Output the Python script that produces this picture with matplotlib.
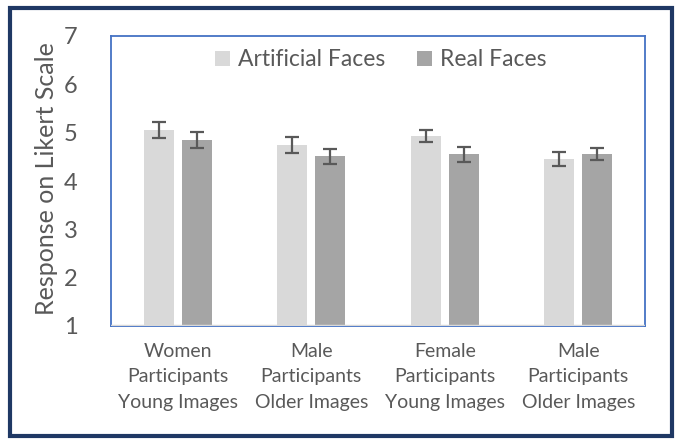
import matplotlib
matplotlib.use("Agg")
import matplotlib.pyplot as plt
import numpy as np
from matplotlib.patches import Rectangle

categories = ["Women\nParticipants\nYoung Images", "Male\nParticipants\nOlder Images",
              "Female\nParticipants\nYoung Images", "Male\nParticipants\nOlder Images"]
artificial = [5.06, 4.74, 4.93, 4.46]
artificial_err = [0.17, 0.17, 0.13, 0.15]
real = [4.85, 4.51, 4.55, 4.56]
real_err = [0.17, 0.15, 0.15, 0.13]
series_names = ["Artificial Faces", "Real Faces"]
yticks = [1, 2, 3, 4, 5, 6, 7]

plt.rcParams['font.family'] = ['Lato', 'DejaVu Sans']

fig = plt.figure(figsize=(6.78, 4.42), dpi=100)
ax = fig.add_axes([111/678, 1-326/442, (645-111)/678, (326-36)/442])

x = np.arange(len(categories))
w = 0.225
off = 0.1425
ax.bar(x - off, artificial, width=w, bottom=0, color="#d9d9d9", label=series_names[0], zorder=2)
ax.bar(x + off, real, width=w, bottom=0, color="#a5a5a5", label=series_names[1], zorder=2)
ax.errorbar(x - off, artificial, yerr=artificial_err, fmt="none", ecolor="#595959",
            elinewidth=1.6, capsize=5, capthick=1.6, zorder=3)
ax.errorbar(x + off, real, yerr=real_err, fmt="none", ecolor="#595959",
            elinewidth=1.6, capsize=5, capthick=1.6, zorder=3)

ax.set_ylim(1, 7)
ax.set_xlim(-0.5, 3.5)
ax.set_yticks(yticks)
ax.set_xticks(x)
ax.set_xticklabels(categories, fontsize=14, color="#595959", linespacing=1.62)
ax.tick_params(axis='y', length=0, pad=24, labelsize=17, labelcolor="#595959")
ax.tick_params(axis='x', length=0, pad=12)

for s in ax.spines.values():
    s.set_color("#4472c4")
    s.set_linewidth(1.3)
ax.axhline(1, color="#d9d9d9", lw=2.5, zorder=4)

ax.set_ylabel("Response on Likert Scale", fontsize=18, color="#595959")
ax.yaxis.set_label_coords(-0.10, 0.51)

leg = ax.legend(loc="upper center", bbox_to_anchor=(0.505, 1.025), ncol=2, frameon=False,
                fontsize=16.5, handlelength=0.65, handleheight=0.65, handletextpad=0.35,
                columnspacing=1.4, labelcolor="#595959")

fig.patches.append(Rectangle((10/678, 1-436/442), (672-10)/678, (436-8)/442,
                             transform=fig.transFigure, fill=False,
                             edgecolor="#1f3864", linewidth=3))

fig.savefig("out.png", dpi=100)
